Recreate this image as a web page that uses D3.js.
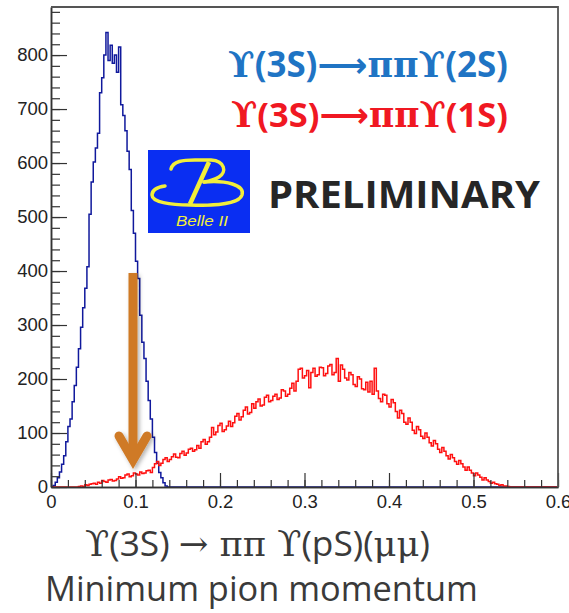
<!DOCTYPE html>
<html>
<head>
<meta charset="utf-8">
<script src="https://cdn.jsdelivr.net/npm/d3@7/dist/d3.min.js"></script>
<style>
  body { margin: 0; background: #fff; }
</style>
</head>
<body>
<div id="chart-area"></div>
<script>
// Histogram data, bins of 0.0025
const binWidth = 0.0025;
const xMax = 0.6;

// Y(3S) -> pi pi Y(2S), bins starting at 0
const blueStart = 0;
const blueCounts = [0, 3, 9, 17, 28, 42, 58, 84, 112, 126, 158, 188, 222, 256, 296, 332,
  368, 408, 505, 565, 602, 628, 655, 730, 758, 800, 842, 790, 818, 785, 800, 768,
  815, 708, 688, 660, 622, 588, 512, 470, 418, 386, 318, 268, 238, 196, 160, 126,
  92, 64, 44, 27, 17, 8, 2, 0];

// Y(3S) -> pi pi Y(1S), bins starting at 0.03
const redStart = 0.03;
const redCounts = [
  0, 1, 2, 1, 4, 3, 5, 6, 7, 5, 9, 7, 12, 10, 9, 13, 14, 11, 12, 15,
  19, 16, 17, 22, 24, 19, 21, 26, 24, 22, 28, 25, 26, 30, 31, 27, 36, 43, 47, 40,
  44, 51, 54, 47, 51, 56, 61, 55, 54, 62, 66, 59, 63, 70, 72, 66, 69, 77, 72, 84,
  88, 79, 84, 92, 110, 97, 102, 114, 118, 103, 106, 113, 122, 112, 119, 131, 136, 124, 130, 142,
  148, 135, 138, 154, 146, 158, 163, 150, 152, 166, 170, 158, 160, 168, 172, 162, 165, 180, 178, 168,
  172, 183, 192, 178, 196, 218, 220, 202, 206, 216, 184, 212, 220, 205, 208, 222, 221, 206, 210, 224,
  227, 208, 212, 238, 196, 226, 218, 202, 198, 212, 208, 190, 186, 204, 200, 182, 180, 194, 176, 196,
  172, 220, 178, 164, 158, 172, 170, 154, 148, 162, 156, 140, 128, 142, 136, 120, 116, 128, 120, 105,
  99, 112, 106, 94, 90, 100, 92, 82, 76, 86, 80, 70, 64, 73, 66, 58, 52, 60, 54, 47,
  42, 49, 43, 37, 31, 37, 31, 26, 21, 26, 22, 18, 13, 17, 13, 10, 7, 9, 6, 5,
  3, 4, 2, 2, 1, 0];

const xTickValues = [0, 0.1, 0.2, 0.3, 0.4, 0.5, 0.6];
const xMinorValues = d3.range(0, 31).map(i => i * 0.02);
const yTickValues = [0, 100, 200, 300, 400, 500, 600, 700, 800];
const yMinorValues = d3.range(0, 45).map(i => i * 20);

// text pieces: [text, font]
const legendBlue = [["ϒ", "serif"], ["(3S)", "sans"], ["⟶", "arrow"], ["ππϒ", "serif"], ["(2S)", "sans"]];
const legendRed = [["ϒ", "serif"], ["(3S)", "sans"], ["⟶", "arrow"], ["ππϒ", "serif"], ["(1S)", "sans"]];
const titleLine1 = [["ϒ", "serif"], ["(3S) ", "sans"], ["→", "serif"], [" ππ ϒ", "serif"], ["(pS)(", "sans"], ["μμ", "serif"], [")", "sans"]];
const titleLine2 = [["Minimum pion momentum", "sans"]];

const fonts = {
  serif: "'DejaVu Serif', serif",
  sans: "'Open Sans', sans-serif",
  arrow: "'DejaVu Sans', sans-serif"
};

// Dimensions
const W = 569, H = 613;
const plot = { left: 51, right: 558, top: 7, bottom: 487 };

const svg = d3.select("#chart-area")
  .append("svg")
    .attr("width", W)
    .attr("height", H)
    .style("background", "#fff");

const xScale = d3.scaleLinear().domain([0, xMax]).range([plot.left, plot.right]);
const yScale = d3.scaleLinear().domain([0, 889]).range([plot.bottom, plot.top]);

// histogram -> step line over the whole axis
function stepPoints(start, counts) {
  const n = Math.round(xMax / binWidth);
  const off = Math.round(start / binWidth);
  const pts = [];
  for (let i = 0; i < n; i++) {
    const c = counts[i - off];
    pts.push([i * binWidth, c === undefined ? 0 : c]);
  }
  pts.push([xMax, pts[n - 1][1]]);
  return pts;
}

const stepLine = d3.line()
  .x(d => xScale(d[0]))
  .y(d => yScale(d[1]))
  .curve(d3.curveStepAfter);

svg.append("path")
  .attr("d", stepLine(stepPoints(blueStart, blueCounts)))
  .attr("fill", "none")
  .attr("stroke", "#10199c")
  .attr("stroke-width", 1.5);

svg.append("path")
  .attr("d", stepLine(stepPoints(redStart, redCounts)))
  .attr("fill", "none")
  .attr("stroke", "#ff1010")
  .attr("stroke-width", 1.5);

// AXES (ROOT style: ticks inside)
const axisColor = "#333";
const tickFont = "'Liberation Sans', Arial, sans-serif";

function styleAxis(g) {
  g.selectAll("line").attr("stroke", axisColor).attr("stroke-width", 1.2);
  g.select(".domain").attr("stroke", axisColor).attr("stroke-width", 1.5);
  g.selectAll("text").attr("fill", "#222").style("font-family", tickFont).style("font-size", "18.5px");
}

svg.append("g")
  .attr("transform", "translate(0," + plot.bottom + ")")
  .call(d3.axisBottom(xScale).tickValues(xMinorValues).tickSize(-7).tickSizeOuter(0).tickFormat(""))
  .call(styleAxis);

svg.append("g")
  .attr("transform", "translate(0," + plot.bottom + ")")
  .call(d3.axisBottom(xScale).tickValues(xTickValues).tickSize(-14).tickSizeOuter(0).tickPadding(8)
    .tickFormat(d => d === 0 ? "0" : d3.format(".1f")(d)))
  .call(styleAxis);

svg.append("g")
  .attr("transform", "translate(" + plot.left + ",0)")
  .call(d3.axisLeft(yScale).tickValues(yMinorValues).tickSize(-9).tickSizeOuter(0).tickFormat(""))
  .call(styleAxis);

svg.append("g")
  .attr("transform", "translate(" + plot.left + ",0)")
  .call(d3.axisLeft(yScale).tickValues(yTickValues).tickSize(-16).tickSizeOuter(0).tickPadding(3))
  .call(styleAxis);

// frame top and right
svg.append("path")
  .attr("d", `M${plot.left},${plot.top}H${plot.right}V${plot.bottom}`)
  .attr("fill", "none")
  .attr("stroke", "#555")
  .attr("stroke-width", 1.8);

// rich text with width fitting
function richText(parts, x, y, width, color, weight) {
  const t = svg.append("text")
    .attr("x", x)
    .attr("y", y)
    .attr("fill", color)
    .style("font-size", "30px")
    .style("font-weight", weight);
  parts.forEach(p => {
    t.append("tspan").text(p[0]).style("font-family", fonts[p[1]]);
  });
  const w = t.node().getComputedTextLength();
  t.style("font-size", (30 * width / w) + "px");
  return t;
}

richText(legendBlue, 228, 77, 280, "#1f74c4", "bold");
richText(legendRed, 231, 127, 277, "#f01822", "bold");
richText(titleLine1, 85, 556, 345, "#3a3a3a", "normal");
richText(titleLine2, 45, 601, 433, "#3a3a3a", "normal");

// PRELIMINARY
svg.append("text")
  .attr("x", 268)
  .attr("y", 208)
  .attr("fill", "#262626")
  .attr("textLength", 272)
  .attr("lengthAdjust", "spacingAndGlyphs")
  .style("font-family", fonts.sans)
  .style("font-weight", "bold")
  .style("font-size", "38px")
  .text("PRELIMINARY");

// Belle II logo
const logo = svg.append("g");
logo.append("rect")
  .attr("x", 148).attr("y", 150).attr("width", 102).attr("height", 83)
  .attr("fill", "#0a2ef2");
const yellow = "#f2ee3a";
logo.append("path")
  .attr("d", "M209,162 L190,204")
  .attr("stroke", yellow).attr("stroke-width", 4.5).attr("fill", "none");
logo.append("path")
  .attr("d", "M171,169 C173,161 183,160 195,160 L211,160 C225,161 227,172 219,177 C214,180 210,181 204,182")
  .attr("stroke", yellow).attr("stroke-width", 3.5).attr("fill", "none").attr("stroke-linecap", "round");
logo.append("path")
  .attr("d", "M204,182 C226,180 245,185 242,195 C239,204 214,206 190,205 C170,205 152,202 152,195 C152,190 158,187 165,186")
  .attr("stroke", yellow).attr("stroke-width", 3.5).attr("fill", "none").attr("stroke-linecap", "round");
logo.append("text")
  .attr("x", 202).attr("y", 226)
  .attr("text-anchor", "middle")
  .attr("fill", yellow)
  .attr("textLength", 52)
  .attr("lengthAdjust", "spacingAndGlyphs")
  .style("font-family", tickFont)
  .style("font-style", "italic")
  .style("font-size", "14px")
  .text("Belle II");

// orange arrow with soft shadow
const defs = svg.append("defs");
const f = defs.append("filter").attr("id", "shadow").attr("x", "-50%").attr("y", "-20%").attr("width", "200%").attr("height", "140%");
f.append("feDropShadow").attr("dx", 2).attr("dy", 2).attr("stdDeviation", 2)
  .attr("flood-color", "#000").attr("flood-opacity", 0.3);

const arrow = svg.append("g").attr("filter", "url(#shadow)");
arrow.append("path")
  .attr("d", "M133,273 V455")
  .attr("stroke", "#cf7a26").attr("stroke-width", 9).attr("fill", "none");
arrow.append("path")
  .attr("d", "M119,436 L133,460 L147,436")
  .attr("stroke", "#cf7a26").attr("stroke-width", 9).attr("fill", "none")
  .attr("stroke-linecap", "round").attr("stroke-linejoin", "miter");
</script>
</body>
</html>
